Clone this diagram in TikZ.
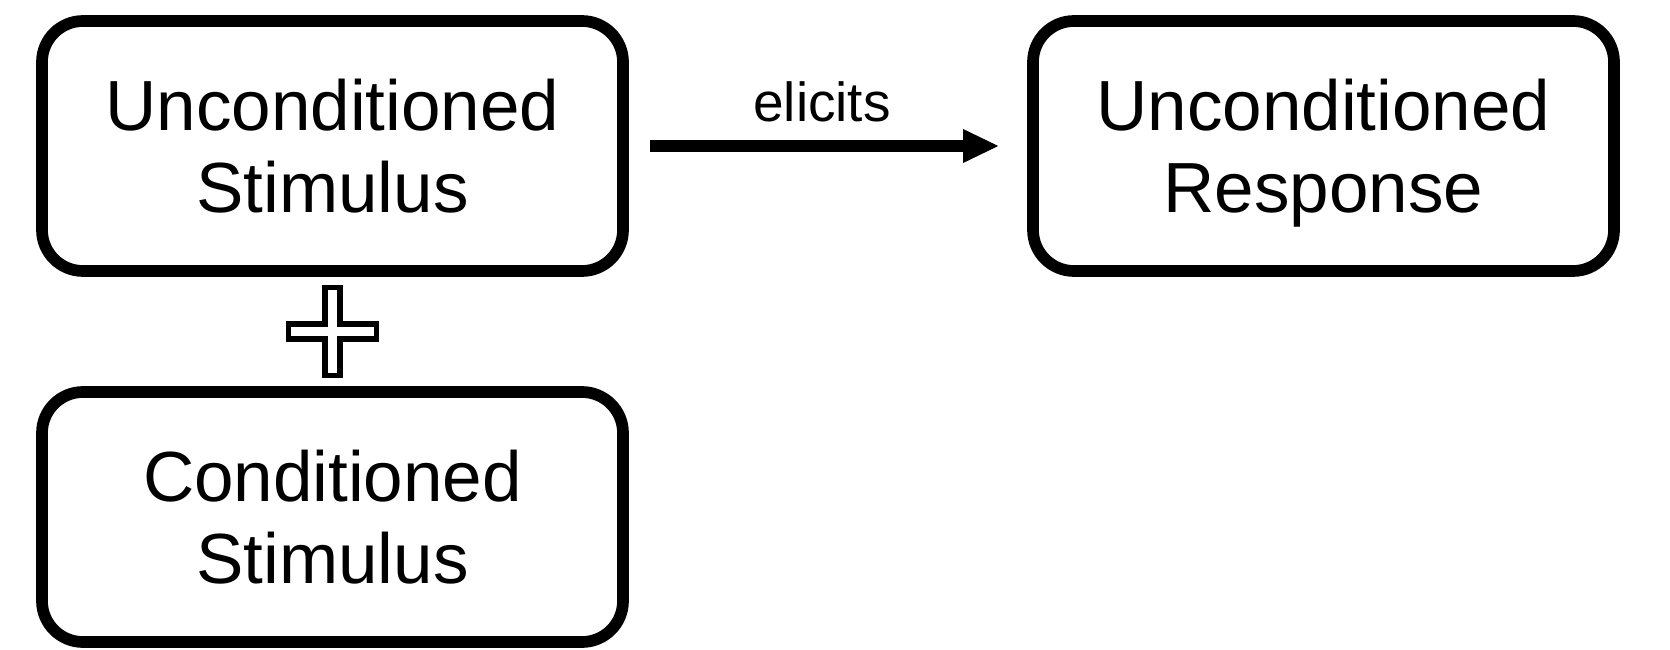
\documentclass[tikz,border=0pt]{standalone}
\usepackage{fontspec}
\setmainfont{Liberation Sans}
\usetikzlibrary{arrows.meta,calc}
\begin{document}
\begin{tikzpicture}[x=1pt,y=-1pt,
  box/.style={draw=black, line width=11.7pt, rounded corners=41pt, rectangle,
    minimum width=581pt, minimum height=250pt, inner sep=0pt, align=center,
    font=\fontsize{71}{82}\selectfont, text depth=0pt},
  lbl/.style={font=\fontsize{55}{60}\selectfont, inner sep=0pt},
  conn/.style={line width=11.7pt, -{Triangle[length=35pt,width=34pt,line width=0pt]}},
  plusmark/.style={draw=black, line width=5.5pt, fill=white, line join=miter}
]
\useasboundingbox (0,0) rectangle (1670,650);
\node[box] (ucs) at (332.5,146) {Unconditioned\\Stimulus};
\node[box] (ur)  at (1323.5,146) {Unconditioned\\Response};
\node[box] (cs)  at (332.5,517) {Conditioned\\Stimulus};
\draw[conn, shorten <=21pt, shorten >=29pt] (ucs.east) -- (ur.west);
\node[lbl, anchor=base] (elicits) at (822,121.7) {elicits};
\coordinate (plus) at ($(ucs.south)!0.5!(cs.north)$);
\draw[plusmark] ($(plus)+(-7.7,-44.2)$) -- ++(15.4,0) -- ++(0,36.5) -- ++(36.5,0)
  -- ++(0,15.4) -- ++(-36.5,0) -- ++(0,36.5) -- ++(-15.4,0) -- ++(0,-36.5)
  -- ++(-36.5,0) -- ++(0,-15.4) -- ++(36.5,0) -- cycle;
\end{tikzpicture}
\end{document}
